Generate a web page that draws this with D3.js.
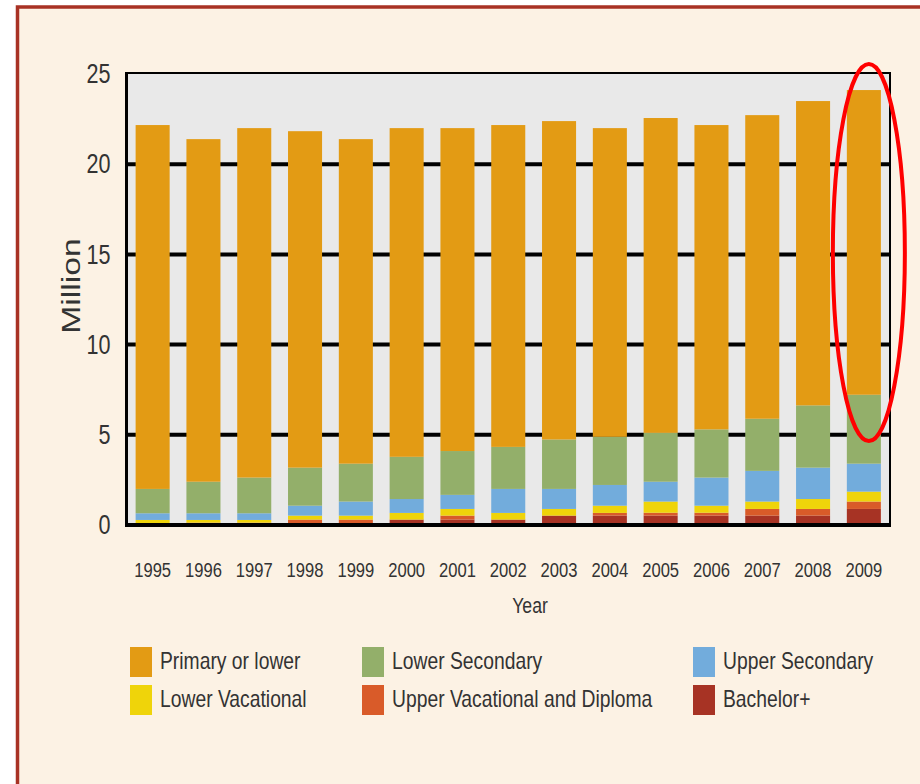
<!DOCTYPE html>
<html>
<head>
<meta charset="utf-8">
<script src="https://cdn.jsdelivr.net/npm/d3@7"></script>
<style>
  html, body { margin: 0; padding: 0; background: #fff; }
  svg { display: block; }
  text { font-family: "Liberation Sans", Arial, sans-serif; fill: #333; }
</style>
</head>
<body>
<svg width="920" height="784"></svg>
<script>
// categories
const years = ["1995","1996","1997","1998","1999","2000","2001","2002","2003","2004","2005","2006","2007","2008","2009"];

// series values (million), stacked bottom -> top
const bachelor     = [0, 0, 0, 0, 0, 0.30, 0.30, 0.30, 0.52, 0.52, 0.52, 0.52, 0.52, 0.52, 0.89];
const upperVoc     = [0, 0.13, 0.13, 0.30, 0.30, 0, 0.22, 0, 0, 0.15, 0.16, 0.16, 0.37, 0.37, 0.41];
const lowerVoc     = [0.28, 0.15, 0.15, 0.22, 0.22, 0.37, 0.37, 0.37, 0.37, 0.40, 0.62, 0.39, 0.41, 0.55, 0.55];
const upperSec     = [0.37, 0.37, 0.37, 0.55, 0.78, 0.77, 0.78, 1.33, 1.11, 1.15, 1.10, 1.56, 1.70, 1.74, 1.55];
const lowerSec     = [1.35, 1.75, 1.98, 2.11, 2.10, 2.34, 2.43, 2.33, 2.74, 2.67, 2.71, 2.67, 2.89, 3.45, 3.82];
const primary      = [20.17, 18.99, 19.37, 18.65, 17.99, 18.22, 17.90, 17.84, 17.65, 17.11, 17.45, 16.87, 16.83, 16.87, 16.89];

const yTicks = [0, 5, 10, 15, 20, 25];

const series = [
  {key: "bachelor", label: "Bachelor+", values: bachelor, color: "#a73324"},
  {key: "upperVoc", label: "Upper Vacational and Diploma", values: upperVoc, color: "#d95b29"},
  {key: "lowerVoc", label: "Lower Vacational", values: lowerVoc, color: "#efd40a"},
  {key: "upperSec", label: "Upper Secondary", values: upperSec, color: "#72acdc"},
  {key: "lowerSec", label: "Lower Secondary", values: lowerSec, color: "#93af6a"},
  {key: "primary", label: "Primary or lower", values: primary, color: "#e39b14"}
];

// legend order as shown (row by row)
const legendOrder = ["primary", "lowerSec", "upperSec", "lowerVoc", "upperVoc", "bachelor"];

const table = years.map((yr, i) => {
  const row = {year: yr};
  series.forEach(s => row[s.key] = s.values[i]);
  return row;
});

const svg = d3.select("svg");

// page background + dark red frame
svg.append("rect").attr("x", 0).attr("y", 0).attr("width", 920).attr("height", 784).attr("fill", "#fff");
svg.append("rect")
    .attr("x", 17.5).attr("y", 7)
    .attr("width", 940).attr("height", 820)
    .attr("fill", "#fcf2e4")
    .attr("stroke", "#a83224")
    .attr("stroke-width", 3.5);

const plot = {left: 126.5, right: 890, top: 73, bottom: 525};

const x = d3.scaleBand()
    .domain(years)
    .range([128, 888.5])
    .paddingInner(0.33)
    .paddingOuter(0.15);

const y = d3.scaleLinear()
    .domain([0, 25])
    .range([plot.bottom, 74]);

// plot area
svg.append("rect")
    .attr("x", plot.left).attr("y", plot.top)
    .attr("width", plot.right - plot.left).attr("height", plot.bottom - plot.top)
    .attr("fill", "#e9e9e9");

// gridlines
svg.append("g")
  .selectAll("line")
  .data(yTicks.filter(t => t > 0 && t < 25))
  .join("line")
    .attr("x1", plot.left).attr("x2", plot.right)
    .attr("y1", d => y(d)).attr("y2", d => y(d))
    .attr("stroke", "#000")
    .attr("stroke-width", 4);

// stacked bars
const stack = d3.stack().keys(series.map(s => s.key));
const stacked = stack(table);
const colorOf = Object.fromEntries(series.map(s => [s.key, s.color]));

svg.append("g")
  .selectAll("g")
  .data(stacked)
  .join("g")
    .attr("fill", d => colorOf[d.key])
  .selectAll("rect")
  .data(d => d)
  .join("rect")
    .attr("x", d => x(d.data.year))
    .attr("width", x.bandwidth())
    .attr("y", d => y(d[1]))
    .attr("height", d => y(d[0]) - y(d[1]));

// frame lines
svg.append("line").attr("x1", plot.left).attr("x2", plot.left).attr("y1", plot.top - 1).attr("y2", plot.bottom + 2)
    .attr("stroke", "#000").attr("stroke-width", 3);
svg.append("line").attr("x1", plot.left).attr("x2", plot.right + 1).attr("y1", plot.top).attr("y2", plot.top)
    .attr("stroke", "#000").attr("stroke-width", 2);
svg.append("line").attr("x1", plot.right).attr("x2", plot.right).attr("y1", plot.top).attr("y2", plot.bottom)
    .attr("stroke", "#000").attr("stroke-width", 2);
svg.append("line").attr("x1", plot.left).attr("x2", plot.right + 1).attr("y1", plot.bottom).attr("y2", plot.bottom)
    .attr("stroke", "#000").attr("stroke-width", 4);

// the source font is a narrow one: squeeze text horizontally
const squeeze = 0.8;

// y axis labels
const yAxis = d3.axisLeft(y).tickValues(yTicks).tickSize(0).tickPadding(16);
const gy = svg.append("g").attr("transform", `translate(${plot.left},0)`).call(yAxis);
gy.select(".domain").remove();
gy.selectAll("text")
    .attr("font-size", 27)
    .attr("font-family", null)
    .attr("fill", "#333")
    .attr("x", -16 / squeeze)
    .attr("transform", `scale(${squeeze},1)`);

svg.append("text")
    .attr("transform", "translate(80,286) rotate(-90) scale(1.3,1)")
    .attr("text-anchor", "middle")
    .attr("font-size", 26)
    .text("Million");

// x axis labels
const xAxis = d3.axisBottom(x).tickSize(0).tickPadding(37);
const gx = svg.append("g").attr("transform", `translate(0,${plot.bottom})`).call(xAxis);
gx.select(".domain").remove();
gx.selectAll("text")
    .attr("font-size", 21)
    .attr("font-family", null)
    .attr("fill", "#333")
    .attr("transform", `scale(0.79,1)`);

svg.append("text")
    .attr("transform", `translate(530,613) scale(${squeeze},1)`)
    .attr("text-anchor", "middle")
    .attr("font-size", 22)
    .text("Year");

// legend
const legendCols = [130, 362, 693];
const legendRows = [647, 685];
const legend = svg.append("g")
  .selectAll("g")
  .data(legendOrder.map(k => series.find(s => s.key === k)))
  .join("g")
    .attr("transform", (d, i) => `translate(${legendCols[i % 3]},${legendRows[Math.floor(i / 3)]})`);

legend.append("rect")
    .attr("width", 22).attr("height", 30)
    .attr("fill", d => d.color);

legend.append("text")
    .attr("transform", "translate(30,22) scale(0.84,1)")
    .attr("font-size", 23)
    .text(d => d.label);

// red ellipse highlighting 2009
svg.append("ellipse")
    .attr("cx", x("2009") + x.bandwidth() / 2 + 5)
    .attr("cy", y(15.1))
    .attr("rx", 36)
    .attr("ry", y(0) - y(10.45))
    .attr("fill", "none")
    .attr("stroke", "#ff0000")
    .attr("stroke-width", 4);
</script>
</body>
</html>
